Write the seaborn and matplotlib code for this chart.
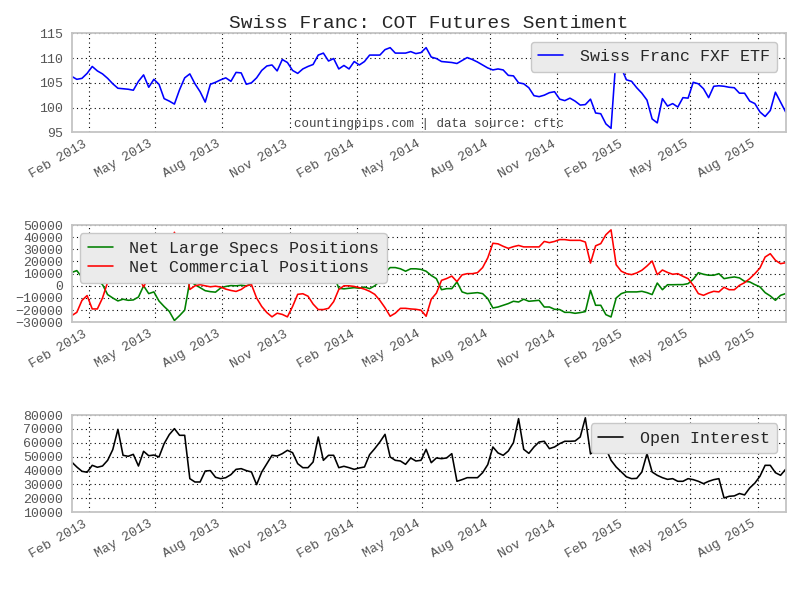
import pandas as pd
import numpy as np
import seaborn as sns
import matplotlib
matplotlib.use("Agg")
import matplotlib.pyplot as plt
import matplotlib.dates as mdates

# weekly COT report dates (Tuesdays)
dates = pd.date_range("2013-01-08", periods=140, freq="7D")

fxf_etf = [
    106.3, 105.7, 105.9, 106.9, 108.3, 107.4, 106.8, 105.9, 104.8, 103.9,
    103.8, 103.7, 103.5, 105.3, 106.6, 104.1, 105.7, 104.7, 101.8, 101.3,
    100.7, 103.6, 106.0, 106.8, 104.8, 103.2, 101.1, 104.7, 105.1, 105.6,
    106.0, 105.3, 107.1, 107.0, 104.7, 105.0, 106.0, 107.5, 108.4, 108.6,
    107.4, 109.7, 109.1, 107.5, 106.9, 107.8, 108.3, 108.7, 110.6, 111.0,
    109.4, 109.9, 107.8, 108.5, 107.8, 109.3, 108.6, 109.3, 110.6, 110.6,
    110.6, 111.7, 112.1, 111.0, 111.0, 111.0, 111.3, 110.9, 111.1, 112.1,
    110.2, 109.9, 109.3, 109.2, 109.1, 108.9, 109.5, 110.1, 109.7, 109.2,
    108.6, 108.0, 107.6, 107.8, 107.6, 106.5, 106.4, 105.0, 104.8, 104.0,
    102.4, 102.2, 102.5, 103.0, 103.2, 101.7, 101.4, 101.9, 101.3, 100.5,
    100.6, 101.7, 98.9, 98.75, 96.7, 95.8, 110.5, 108.0, 105.6, 105.3,
    104.0, 102.9, 101.5, 97.7, 96.9, 101.8, 100.3, 100.8, 100.1, 102.0,
    101.9, 105.1, 104.8, 103.8, 102.0, 104.3, 104.4, 104.3, 104.1, 104.0,
    102.9, 102.9, 101.3, 100.8, 99.1, 98.2, 99.4, 103.1, 101.1, 99.1,
]

large_specs = [
    11000, 12500, 7000, 4000, 6000, 4500, 1000, -7200, -10000, -12400,
    -11000, -11900, -11600, -9200, 0, -6400, -5000, -12500, -17000, -21000,
    -28500, -24500, -20000, 4000, 1000, -1500, -4000, -4800, -5200, -1800,
    -500, 200, 0, 500, 0, 1500, 8000, 12000, 16000, 18000,
    16000, 17000, 18000, 12000, 5000, 5000, 7000, 12000, 14000, 14000,
    13000, 9000, -2000, -2500, -2000, -1500, -2000, -1000, -2300, 0,
    4000, 11000, 15000, 15000, 14000, 12000, 14000, 14000, 13500, 12000,
    8500, 5900, -3200, -2300, -2300, 3200, -5000, -6400, -6000, -5600,
    -6400, -10500, -18200, -17400, -16000, -14600, -12700, -13300, -11000, -12700,
    -12300, -11900, -17400, -17400, -19300, -19500, -21800, -21800, -22600, -22000,
    -21200, -3700, -16000, -16000, -23700, -25600, -10000, -6400, -5000, -5000,
    -5000, -4500, -5600, -7200, 2300, -3200, 900, 900, 1000, 1000,
    1800, 5400, 10800, 9500, 8700, 8700, 10000, 5900, 6700, 7300,
    6500, 3700, 3200, 1000, -900, -5600, -8300, -11900, -7800, -6400,
]

commercial = [
    -24500, -21800, -12000, -8000, -19000, -19000, -10000, 3000, 8000, 11000,
    10000, 11000, 11000, 8000, -1000, 8000, 7000, 16000, 22000, 28000,
    44000, 30000, 22000, -3000, 0, 1000, 0, -800, -300, -1000,
    -2700, -3800, -4600, -3000, 0, 1000, -10000, -17000, -22000, -25500,
    -22500, -23500, -25500, -17000, -7000, -6500, -8500, -15000, -19500, -19500,
    -18500, -13000, -3000, 0, 0, -500, -1500, -2700, -4500, -7000,
    -12000, -18000, -25000, -22500, -18500, -18500, -19000, -19300, -20000, -25000,
    -11000, -6000, 4500, 6000, 8000, 3500, 9000, 10000, 10000, 10800,
    15000, 23000, 35000, 34500, 32500, 30800, 32200, 33200, 32000, 32000,
    32000, 32000, 36500, 35500, 36500, 38000, 38000, 37400, 37400, 37400,
    36000, 18700, 32900, 34700, 42000, 46000, 17300, 12000, 10000, 9200,
    10600, 12800, 16300, 20400, 9200, 13000, 11000, 9500, 10000, 7800,
    5900, 400, -6400, -7800, -5900, -4500, -5000, -1200, -3200, -3200,
    400, 2600, 5900, 10000, 14700, 23700, 26400, 21000, 18200, 19000,
]

open_interest = [
    46200, 42600, 39500, 38800, 43800, 42400, 43300, 47400, 55100, 69700,
    51000, 50300, 51700, 43300, 53900, 50700, 51200, 49800, 59400, 65900,
    70200, 65400, 65400, 34200, 31800, 31800, 39700, 40000, 35200, 34200,
    34900, 37100, 40900, 41400, 40000, 39000, 29900, 39000, 45000, 51000,
    50500, 52200, 54600, 52900, 45000, 42100, 42100, 46200, 64200, 47400,
    51000, 51000, 42100, 43100, 42100, 40900, 41900, 42600, 51500, 55800,
    60600, 66100, 49800, 47400, 46900, 44500, 49100, 46900, 47400, 55300,
    45700, 49100, 48600, 49100, 52200, 32300, 33500, 34900, 34900, 34900,
    38500, 44300, 57000, 52700, 51000, 54100, 60100, 77400, 55300, 52400,
    57000, 60600, 61100, 55800, 57000, 59400, 61100, 61100, 61300, 64200,
    78000, 52000, 55000, 54000, 56000, 47400, 42600, 39000, 35500, 34200,
    34400, 39000, 52200, 39000, 36600, 34900, 33700, 34200, 32300, 32300,
    34200, 33500, 32300, 30600, 32300, 33500, 34200, 20300, 21500, 21800,
    23500, 22500, 27500, 31000, 36000, 43800, 43800, 38500, 36600, 41000,
]

df = pd.DataFrame({
    "date": dates,
    "etf": fxf_etf,
    "specs": large_specs,
    "comm": commercial,
    "oi": open_interest,
})

sns.set_style("white")
plt.rcParams["font.family"] = ["Liberation Mono", "DejaVu Sans Mono"]

fig = plt.figure(figsize=(8, 6), dpi=100)
ax1 = fig.add_axes([0.0896, 0.7795, 0.8925, 0.165])
ax2 = fig.add_axes([0.0896, 0.4628, 0.8925, 0.1622])
ax3 = fig.add_axes([0.0896, 0.1462, 0.8925, 0.1621])

sns.lineplot(data=df, x="date", y="etf", ax=ax1, color="#0000ff", lw=1.15,
             label="Swiss Franc FXF ETF")
sns.lineplot(data=df, x="date", y="specs", ax=ax2, color="#008000", lw=1.15,
             label="Net Large Specs Positions")
sns.lineplot(data=df, x="date", y="comm", ax=ax2, color="#ff0000", lw=1.15,
             label="Net Commercial Positions")
sns.lineplot(data=df, x="date", y="oi", ax=ax3, color="black", lw=1.15,
             label="Open Interest")

ax1.set_ylim(95, 115)
ax1.set_yticks([95, 100, 105, 110, 115])
ax2.set_ylim(-30000, 50000)
ax2.set_yticks(range(-30000, 50001, 10000))
ax3.set_ylim(10000, 80000)
ax3.set_yticks(range(10000, 80001, 10000))

for ax in (ax1, ax2, ax3):
    ax.set_xlim(dates[0], dates[-1])
    ax.xaxis.set_major_locator(mdates.MonthLocator(bymonth=[2, 5, 8, 11]))
    ax.xaxis.set_major_formatter(mdates.DateFormatter("%b %Y"))
    ax.set_xlabel("")
    ax.set_ylabel("")
    ax.grid(True, color="black", linestyle=(0, (1, 3)), linewidth=0.8)
    for s in ax.spines.values():
        s.set_color("#c4c4c4")
        s.set_linewidth(1.3)
    ax.tick_params(axis="both", length=0, labelsize=9.5, labelcolor="#555555")
    ax.tick_params(axis="y", pad=6)
    ax.tick_params(axis="x", pad=4)
    for lab in ax.get_xticklabels():
        lab.set_rotation(30)
        lab.set_ha("right")

leg_kw = dict(fontsize=12, frameon=True, fancybox=True, facecolor="#ebebeb",
              edgecolor="#c8c8c8", framealpha=1.0, handlelength=1.5,
              handletextpad=1.0, borderpad=0.45, labelspacing=0.25)
ax1.legend(loc="upper right", **leg_kw)
ax2.legend(loc="upper left", **leg_kw)
ax3.legend(loc="upper right", **leg_kw)

ax1.set_title("Swiss Franc: COT Futures Sentiment", fontsize=14, pad=4)
ax1.text(0.5, 0.08, "countingpips.com | data source: cftc", transform=ax1.transAxes,
         ha="center", va="center", fontsize=9, color="#444444")

fig.savefig("out.png", dpi=100)
